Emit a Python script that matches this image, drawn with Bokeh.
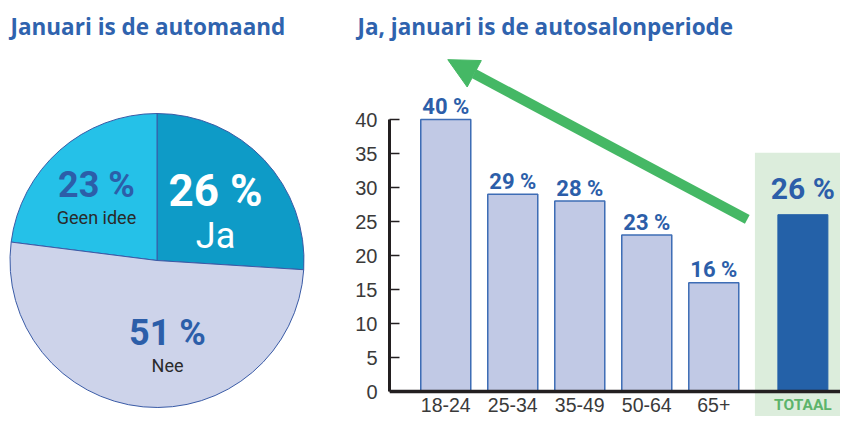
import numpy as np
from bokeh.plotting import figure
from bokeh.layouts import row, column
from bokeh.models import (Range1d, Span, BoxAnnotation, Arrow, NormalHead,
                          SingleIntervalTicker)
from bokeh.core.properties import value
from bokeh.embed import file_html
from bokeh.resources import INLINE

# ---------------- data ----------------
pie_labels = ["Ja", "Geen idee", "Nee"]
pie_values = [26, 23, 51]
pie_colors = ["#0E9BC7", "#25C1E8", "#CDD3EA"]

age_groups = ["18-24", "25-34", "35-49", "50-64", "65+"]
age_values = [40, 29, 28, 23, 16]
total_label = "TOTAAL"
total_value = 26

title_left = "Januari is de automaand"
title_right = "Ja, januari is de autosalonperiode"

BLUE_TXT = "#2C5EA9"
TITLE_BLUE = "#2F63AE"
GREEN = "#45B865"
DARK = "#3A3A3A"

W, H = 840, 416
TOP_H = 44
PIE_W = 339

# ---------------- titles strip ----------------
top = figure(width=W, height=TOP_H, x_range=Range1d(0, W), y_range=Range1d(0, TOP_H),
             output_backend="svg", toolbar_location=None, min_border=0,
             x_axis_type=None, y_axis_type=None)
top.outline_line_color = None
top.grid.visible = False
top.text(x=[10, 357], y=[18.5, 18.5], text=[title_left, title_right],
         text_align="left", text_baseline="middle", text_color=TITLE_BLUE,
         text_font=value("Open Sans"), text_font_style="bold", text_font_size="22.5px")

# ---------------- pie ----------------
PH = H - TOP_H
pie = figure(width=PIE_W, height=PH, x_range=Range1d(0, PIE_W), y_range=Range1d(0, PH),
             output_backend="svg", toolbar_location=None, min_border=0,
             x_axis_type=None, y_axis_type=None)
pie.outline_line_color = None
pie.grid.visible = False

cx, cy, R = 156.5, 156, 147
fr = np.array(pie_values) / sum(pie_values)
start0 = np.pi / 2 - 2 * np.pi * fr[0]
ends = start0 + 2 * np.pi * np.cumsum(fr)
starts = np.concatenate([[start0], ends[:-1]])
pie.wedge(x=cx, y=cy, radius=R, start_angle=starts, end_angle=ends,
          fill_color=pie_colors, line_color="#3A5BA6", line_width=1)

# label offsets relative to centre (layout only)
pct_off = [(58.5, 70), (-60.5, 75.5), (10.5, -72)]
name_off = [(58.5, 25), (-60.5, 43), (10.5, -104.5)]
pct_size = ["44px", "36px", "36px"]
pct_col = ["white", BLUE_TXT, BLUE_TXT]
name_size = ["36px", "18px", "18px"]
name_col = ["white", "#2A2A2A", "#2A2A2A"]
for i in range(3):
    pie.text(x=[cx + pct_off[i][0]], y=[cy + pct_off[i][1]], text=[f"{pie_values[i]} %"],
             text_align="center", text_baseline="middle", text_color=pct_col[i],
             text_font=value("Roboto"), text_font_style="bold", text_font_size=pct_size[i])
    pie.text(x=[cx + name_off[i][0]], y=[cy + name_off[i][1]], text=[pie_labels[i]],
             text_align="center", text_baseline="middle", text_color=name_col[i],
             text_font=value("Roboto"), text_font_size=name_size[i])

# ---------------- bars ----------------
PX = 67.0          # px per category step
PY = 6.8           # px per percent
ZERO_Y = 391       # page y of value 0
LEFT_PAD = 0.84
x0 = -LEFT_PAD
x1 = x0 + (W - PIE_W - 50) / PX
y0 = -(H - ZERO_Y) / PY
y1 = (ZERO_Y - TOP_H) / PY

bar = figure(width=W - PIE_W, height=PH, x_range=Range1d(x0, x1), y_range=Range1d(y0, y1),
             output_backend="svg", toolbar_location=None,
             min_border_left=50, min_border_right=0, min_border_top=0, min_border_bottom=0,
             x_axis_type=None)
bar.outline_line_color = None
bar.grid.visible = False

ax = bar.yaxis[0]
ax.ticker = SingleIntervalTicker(interval=5, num_minor_ticks=0)
ax.bounds = (0, 40)
ax.major_tick_in = 10
ax.major_tick_out = 0
ax.minor_tick_line_color = None
ax.axis_line_width = 3
ax.axis_line_color = "#231F20"
ax.major_tick_line_color = "#231F20"
ax.major_tick_line_width = 1.5
ax.major_label_text_font = "Liberation Sans"
ax.major_label_text_font_size = "20px"
ax.major_label_text_color = DARK
ax.major_label_standoff = 12

xpos = np.arange(len(age_groups))
total_x = len(age_groups) + 0.33
bw = 50 / PX

bar.add_layout(BoxAnnotation(left=total_x - 0.716, top=35.1, fill_color="#DCEDDC",
                             fill_alpha=1, line_color=None, level="underlay"))
bar.add_layout(Span(location=0, dimension="width", line_color="#231F20", line_width=3.5))

bar.vbar(x=xpos, top=age_values, width=bw, fill_color="#C1C9E5",
         line_color="#3E6DB5", line_width=1.5)
bar.vbar(x=[total_x], top=[total_value], width=bw, fill_color="#2461A8",
         line_color="#2461A8", line_width=1)

bar.text(x=xpos, y=age_values, text=[f"{v} %" for v in age_values], y_offset=-13,
         text_align="center", text_baseline="middle", text_color=BLUE_TXT,
         text_font=value("Roboto"), text_font_style="bold", text_font_size="22px")
bar.text(x=[total_x], y=[total_value], text=[f"{total_value} %"], y_offset=-26,
         text_align="center", text_baseline="middle", text_color=BLUE_TXT,
         text_font=value("Roboto"), text_font_style="bold", text_font_size="30px")

bar.text(x=xpos, y=[0] * len(age_groups), text=age_groups, y_offset=13,
         text_align="center", text_baseline="middle", text_color=DARK,
         text_font=value("Liberation Sans"), text_font_size="19.5px")
bar.text(x=[total_x], y=[0], text=[total_label], y_offset=13,
         text_align="center", text_baseline="middle", text_color="#5DB46B",
         text_font=value("Roboto"), text_font_style="bold", text_font_size="15.5px")

bar.add_layout(Arrow(end=NormalHead(size=30, fill_color=GREEN, line_color=GREEN),
                     x_start=4.5, y_start=25.3, x_end=0.03, y_end=48.8,
                     line_color=GREEN, line_width=10, line_cap="butt"))

layout = column(top, row(pie, bar))
open("out.html", "w").write(file_html(layout, INLINE))
